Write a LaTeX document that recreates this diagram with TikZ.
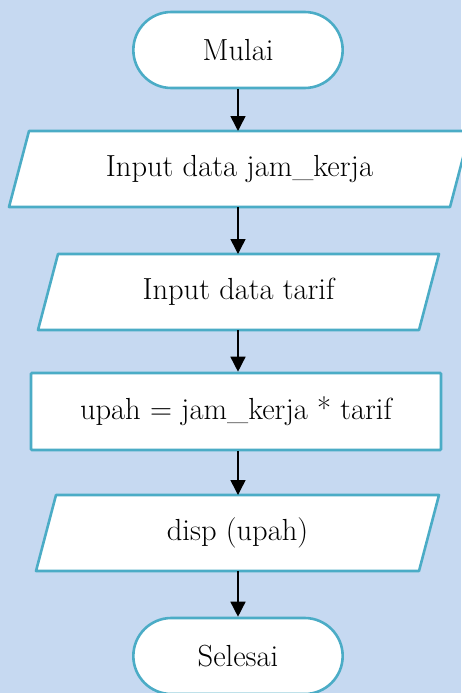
\documentclass[tikz,border=0pt]{standalone}
\usepackage{fontspec}
\usetikzlibrary{shapes.misc,arrows.meta}
\definecolor{canvas}{HTML}{C6D9F1}
\definecolor{edge}{HTML}{4BACC6}
\pgfdeclarelayer{bg}
\pgfdeclarelayer{frames}
\pgfsetlayers{bg,frames,main}
\tikzset{
  flowtext/.style={font=\fontsize{30.5}{34}\selectfont, text=black},
  terminal/.style={flowtext, rounded rectangle, draw=edge, fill=white,
    line width=2.6pt, minimum width=216pt, minimum height=76pt},
  process/.style={flowtext, rectangle, draw=edge, fill=white,
    line width=2.6pt, rounded corners=1pt, minimum width=410pt, minimum height=77pt},
  iobox/.style={flowtext, rectangle, outer sep=0pt, minimum height=76pt},
  ioframe/.style={draw=edge, fill=white, line width=2.6pt, line join=round},
  flow/.style={line width=1.5pt, -{Triangle[length=15pt,width=15pt]}},
}
% slanted input/output frame around a named iobox node
\newcommand\slantframe[2]{%
  \begin{pgfonlayer}{frames}
    \draw[ioframe] ([xshift=#2]#1.north west) -- ([xshift=#2]#1.north east)
      -- ([xshift=-#2]#1.south east) -- ([xshift=-#2]#1.south west) -- cycle;
  \end{pgfonlayer}}
\begin{document}
\begin{tikzpicture}[x=1pt,y=-1pt]
  \useasboundingbox (0,0) rectangle (461,693);
  \begin{pgfonlayer}{bg}
    \fill[canvas] (0,0) rectangle (461,693);
  \end{pgfonlayer}
  \begin{scope}
    \clip (0,0) rectangle (461,693);
    \node[terminal] (start) at (238,50) {Mulai};
    \node[iobox, minimum width=441pt] (injam) at (239.5,169) {Input data jam\_kerja};
    \slantframe{injam}{10}
    \node[iobox, minimum width=381pt] (intarif) at (238.5,292) {Input data tarif};
    \slantframe{intarif}{10}
    \node[process] (calc) at (236,411.5) {upah = jam\_kerja * tarif};
    \node[iobox, minimum width=383pt] (show) at (237.5,533) {disp (upah)};
    \slantframe{show}{10}
    \node[terminal] (stop) at (238,656) {Selesai};

    \draw[flow] (start.south) -- (start.south |- injam.north);
    \draw[flow] (start.south |- injam.south) -- (start.south |- intarif.north);
    \draw[flow] (start.south |- intarif.south) -- (start.south |- calc.north);
    \draw[flow] (start.south |- calc.south) -- (start.south |- show.north);
    \draw[flow] (start.south |- show.south) -- (stop.north);
  \end{scope}
\end{tikzpicture}
\end{document}
